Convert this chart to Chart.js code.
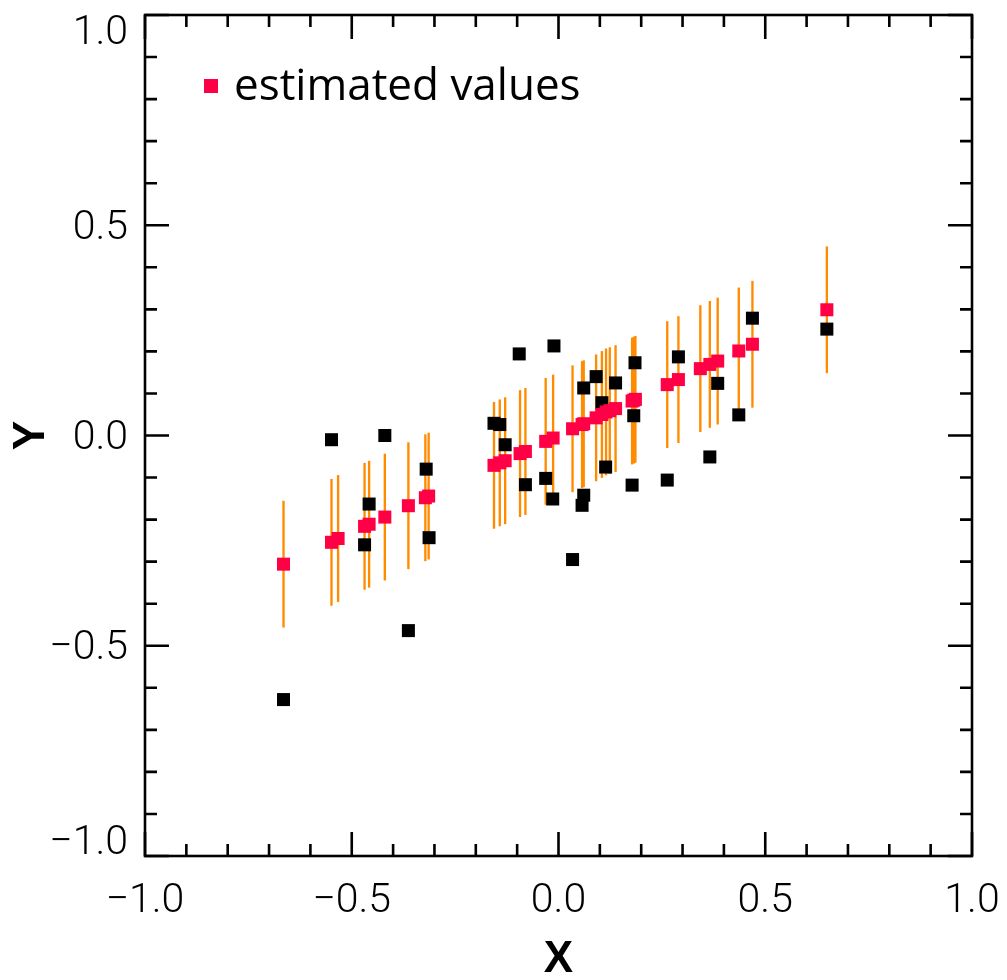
<!DOCTYPE html>
<html>
<head>
<meta charset="utf-8">
<script src="https://cdn.jsdelivr.net/npm/chart.js@4/dist/chart.umd.min.js"></script>
<style>
html,body{margin:0;padding:0;background:#fff;}
#wrap{width:1007px;height:980px;position:relative;}
</style>
</head>
<body>
<div id="wrap"><canvas id="c"></canvas></div>
<script>
// estimated values (red) with error bars
const estX = [-0.665,-0.549,-0.533,-0.469,-0.458,-0.420,-0.363,-0.322,-0.314,-0.156,-0.142,-0.129,-0.093,-0.080,-0.031,-0.013,0.034,0.057,0.061,0.091,0.105,0.115,0.124,0.138,0.178,0.182,0.186,0.263,0.290,0.343,0.366,0.385,0.436,0.469,0.649];
const estY = [-0.306,-0.254,-0.245,-0.216,-0.211,-0.194,-0.167,-0.148,-0.144,-0.071,-0.065,-0.060,-0.043,-0.038,-0.014,-0.006,0.016,0.026,0.028,0.042,0.050,0.056,0.059,0.064,0.082,0.084,0.086,0.121,0.133,0.159,0.169,0.177,0.201,0.217,0.299];
const estErr = [0.15,0.15,0.15,0.15,0.15,0.15,0.15,0.15,0.15,0.15,0.15,0.15,0.15,0.15,0.15,0.15,0.15,0.15,0.15,0.15,0.15,0.15,0.15,0.15,0.15,0.15,0.15,0.15,0.15,0.15,0.15,0.15,0.15,0.15,0.15];
// observed values (black)
const obsX = [-0.665,-0.549,-0.469,-0.458,-0.420,-0.363,-0.320,-0.313,-0.156,-0.142,-0.129,-0.095,-0.080,-0.031,-0.014,-0.011,0.034,0.057,0.061,0.061,0.091,0.105,0.114,0.138,0.178,0.182,0.185,0.263,0.290,0.366,0.385,0.436,0.469,0.649];
const obsY = [-0.628,-0.010,-0.260,-0.163,0.000,-0.464,-0.080,-0.243,0.029,0.026,-0.022,0.194,-0.117,-0.102,-0.151,0.213,-0.295,-0.166,0.113,-0.142,0.140,0.078,-0.075,0.125,-0.118,0.047,0.173,-0.106,0.187,-0.051,0.124,0.049,0.279,0.253];
// axis ticks
const majorTicks = [-1.0,-0.5,0.0,0.5,1.0];
const minorTicks = [-0.9,-0.8,-0.7,-0.6,-0.4,-0.3,-0.2,-0.1,0.1,0.2,0.3,0.4,0.6,0.7,0.8,0.9];
const legendLabel = 'estimated values';
const xTitle = 'X';
const yTitle = 'Y';

const RED = '#ff0046';
const ORANGE = '#ff8c00';

function fmt(v){
  const s = Math.abs(v).toFixed(1);
  return (v < 0 ? '\u2212' : '') + s;
}

const framePlugin = {
  id: 'frame',
  afterDraw(chart){
    const {ctx, chartArea:a, scales:{x, y}} = chart;
    ctx.save();
    ctx.strokeStyle = '#000';
    ctx.lineWidth = 2.6;
    ctx.lineCap = 'butt';
    ctx.beginPath();
    const tick = (vals, len) => {
      vals.forEach(v => {
        const px = x.getPixelForValue(v);
        ctx.moveTo(px, a.bottom); ctx.lineTo(px, a.bottom - len);
        ctx.moveTo(px, a.top); ctx.lineTo(px, a.top + len);
        const py = y.getPixelForValue(v);
        ctx.moveTo(a.left, py); ctx.lineTo(a.left + len, py);
        ctx.moveTo(a.right, py); ctx.lineTo(a.right - len, py);
      });
    };
    tick(majorTicks, 24);
    tick(minorTicks, 12);
    ctx.stroke();
    ctx.strokeRect(a.left, a.top, a.right - a.left, a.bottom - a.top);
    ctx.restore();
  }
};

const legendPlugin = {
  id: 'innerLegend',
  afterDatasetsDraw(chart){
    const {ctx, chartArea:a} = chart;
    ctx.save();
    ctx.fillStyle = RED;
    ctx.fillRect(a.left + 59, a.top + 64, 14, 14);
    ctx.fillStyle = '#000';
    ctx.font = '44px "Open Sans", sans-serif';
    ctx.textBaseline = 'alphabetic';
    ctx.textAlign = 'left';
    ctx.fillText(legendLabel, a.left + 89, a.top + 85);
    ctx.restore();
  }
};

const tickFont = {family: 'Roboto, "Liberation Sans", sans-serif', size: 41, weight: '300', lineHeight: 0.75};
const titleFont = {family: '"Liberation Sans", Arial, sans-serif', size: 44, weight: 'bold', lineHeight: 0.9};

new Chart(document.getElementById('c'), {
  type: 'scatter',
  data: {
    datasets: [
      {
        type: 'bar',
        label: 'error',
        data: estX.map((v, i) => ({x: v, y: [estY[i] - estErr[i], estY[i] + estErr[i]]})),
        backgroundColor: ORANGE,
        borderWidth: 0,
        barThickness: 1.7,
        order: 3
      },
      {
        label: 'observed',
        data: obsX.map((v, i) => ({x: v, y: obsY[i]})),
        pointStyle: 'rect',
        pointRadius: 9.2,
        backgroundColor: '#000',
        borderWidth: 0,
        order: 2
      },
      {
        label: legendLabel,
        data: estX.map((v, i) => ({x: v, y: estY[i]})),
        pointStyle: 'rect',
        pointRadius: 9.2,
        backgroundColor: RED,
        borderWidth: 0,
        order: 1
      }
    ]
  },
  options: {
    responsive: true,
    maintainAspectRatio: false,
    animation: false,
    events: [],
    layout: {padding: {top: 15, right: 35, left: 0, bottom: 0}},
    plugins: {legend: {display: false}, tooltip: {enabled: false}},
    scales: {
      x: {
        type: 'linear',
        min: -1, max: 1,
        offset: false,
        grid: {display: false, drawTicks: false},
        border: {display: false},
        ticks: {
          stepSize: 0.5, autoSkip: false, maxRotation: 0, padding: 30,
          color: '#000', font: tickFont,
          callback: v => fmt(v)
        },
        title: {display: true, text: xTitle, color: '#000', font: titleFont, padding: {top: 0, bottom: 0}},
        afterFit(s){ s.height = 124; s.paddingLeft = 0; s.paddingRight = 0; }
      },
      y: {
        type: 'linear',
        min: -1, max: 1,
        beginAtZero: false,
        grid: {display: false, drawTicks: false},
        border: {display: false},
        ticks: {
          stepSize: 0.5, autoSkip: false, padding: 17, labelOffset: 3,
          color: '#000', font: tickFont,
          callback: v => {
            if (v >= 1) return ['', fmt(v)];
            if (v <= -1) return [fmt(v), ''];
            return fmt(v);
          }
        },
        title: {display: true, text: yTitle, color: '#000', font: titleFont, padding: {top: 12, bottom: 0}},
        afterFit(s){ s.width = 145; s.paddingTop = 0; s.paddingBottom = 0; }
      }
    }
  },
  plugins: [framePlugin, legendPlugin]
});
</script>
</body>
</html>
